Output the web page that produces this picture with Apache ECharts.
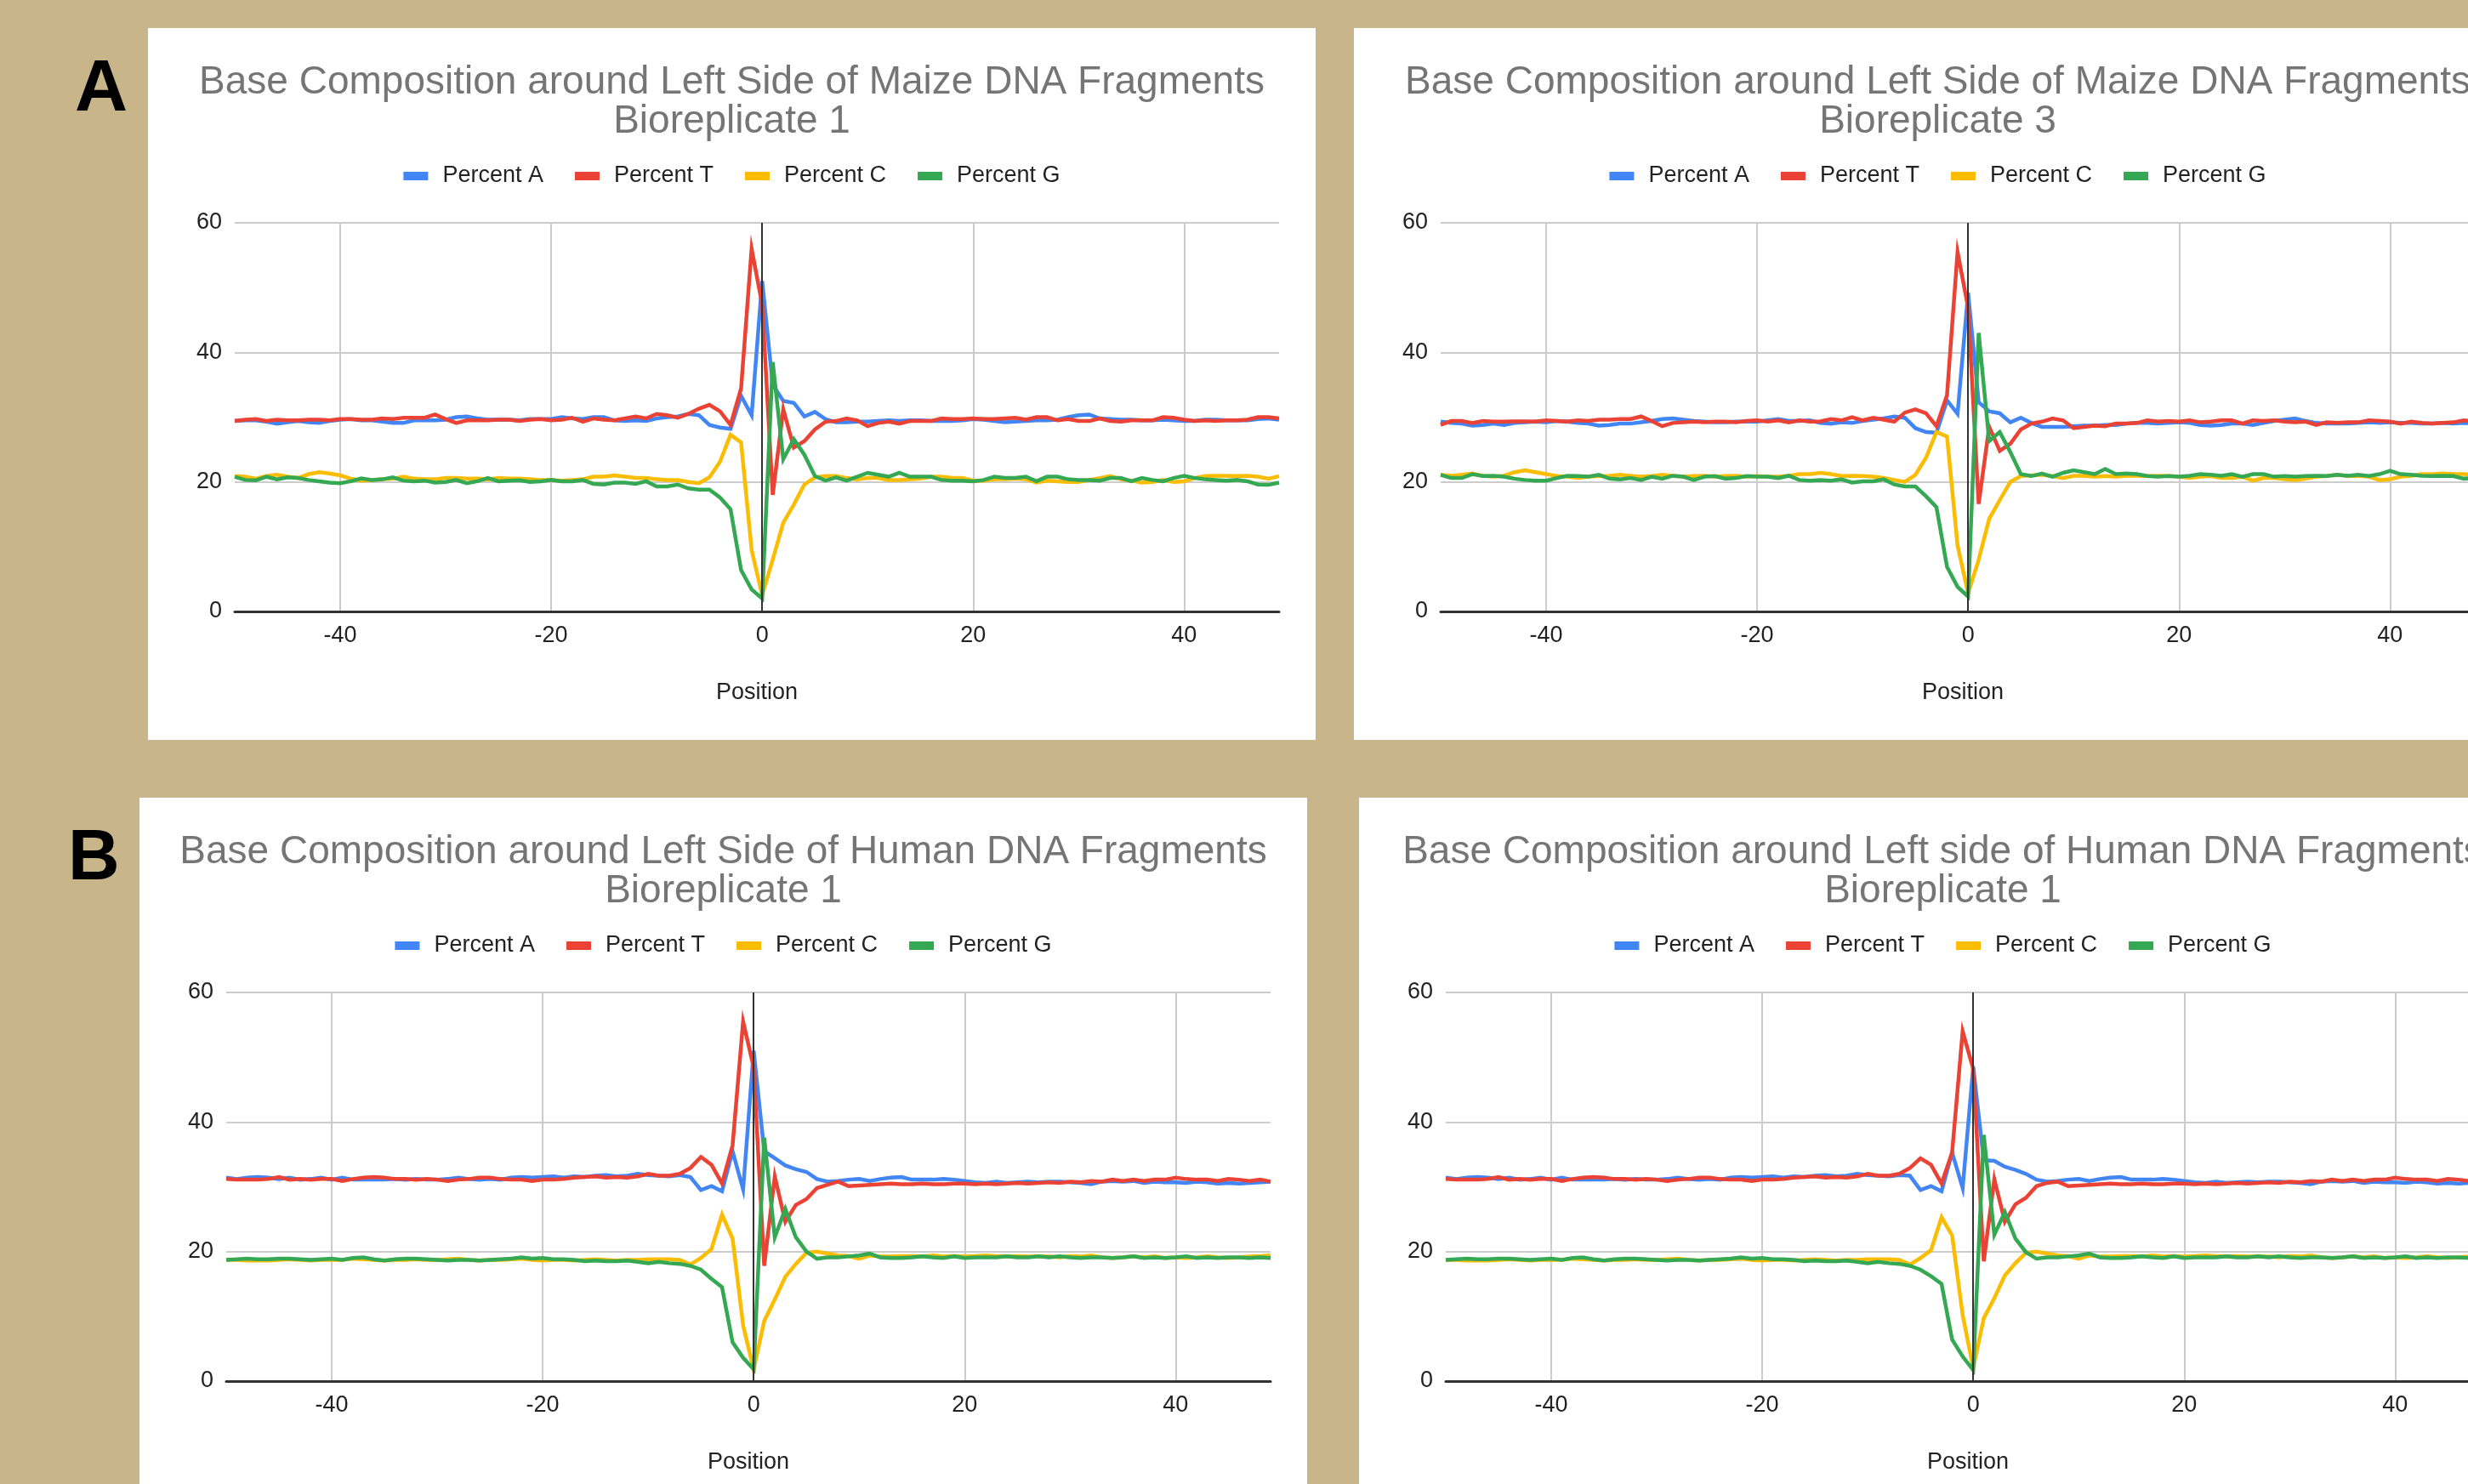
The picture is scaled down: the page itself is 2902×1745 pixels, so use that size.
<!DOCTYPE html>
<html><head><meta charset="utf-8">
<script src="https://cdn.jsdelivr.net/npm/echarts@6/dist/echarts.min.js"></script>
<style>
html,body{margin:0;padding:0;width:2902px;height:1745px;overflow:hidden;background:#C8B58A;position:relative;}
.panel{position:absolute;background:#fff;width:1373px;height:837px;}
.lab{position:absolute;font-family:'Liberation Sans',Arial,sans-serif;font-weight:bold;color:#000;line-height:1;}
</style></head><body>
<div class="lab" style="left:88px;top:57px;font-size:86px;">A</div>
<div class="lab" style="left:80px;top:963px;font-size:84px;">B</div>
<div class="panel" id="pA1" style="left:174px;top:33px;"></div>
<div class="panel" id="pA3" style="left:1592px;top:33px;"></div>
<div class="panel" id="pB1" style="left:164px;top:938px;"></div>
<div class="panel" id="pB2" style="left:1598px;top:938px;"></div>
<script>
const positions = [-50,-49,-48,-47,-46,-45,-44,-43,-42,-41,-40,-39,-38,-37,-36,-35,-34,-33,-32,-31,-30,-29,-28,-27,-26,-25,-24,-23,-22,-21,-20,-19,-18,-17,-16,-15,-14,-13,-12,-11,-10,-9,-8,-7,-6,-5,-4,-3,-2,-1,0,1,2,3,4,5,6,7,8,9,10,11,12,13,14,15,16,17,18,19,20,21,22,23,24,25,26,27,28,29,30,31,32,33,34,35,36,37,38,39,40,41,42,43,44,45,46,47,48,49];
const xTickLabels = [-40,-20,0,20,40];
const yTicks = [0,20,40,60];
const legendNames = ['Percent A','Percent T','Percent C','Percent G'];
const seriesColors = ['#4285F4','#EA4335','#FBBC04','#34A853'];
const titles = [
 'Base Composition around Left Side of Maize DNA Fragments\nBioreplicate 1',
 'Base Composition around Left Side of Maize DNA Fragments\nBioreplicate 3',
 'Base Composition around Left Side of Human DNA Fragments\nBioreplicate 1',
 'Base Composition around Left side of Human DNA Fragments\nBioreplicate 1'
];

// Maize bioreplicate 1
const maize1_A = [29.4,29.5,29.5,29.3,29.0,29.2,29.4,29.2,29.1,29.4,29.6,29.7,29.5,29.5,29.3,29.1,29.1,29.5,29.5,29.5,29.6,30.0,30.1,29.8,29.6,29.6,29.6,29.5,29.7,29.7,29.7,30.0,29.8,29.7,30.0,30.0,29.5,29.4,29.5,29.4,29.8,30.0,30.1,30.5,
 30.3,28.8,28.4,28.2,33.3,30.3,51,35,32.5,32.2,30.1,30.8,29.7,29.2,
 29.2,29.3,29.3,29.4,29.5,29.4,29.5,29.5,29.4,29.4,29.4,29.5,29.7,29.6,29.4,29.2,29.3,29.4,29.5,29.5,29.6,30.0,30.3,30.4,29.8,29.7,29.6,29.6,29.5,29.5,29.6,29.5,29.4,29.4,29.6,29.6,29.5,29.5,29.5,29.7,29.8,29.6];
const maize1_T = [29.4,29.6,29.7,29.4,29.6,29.5,29.5,29.6,29.6,29.5,29.7,29.7,29.6,29.6,29.8,29.7,29.9,29.9,29.9,30.4,29.7,29.1,29.5,29.5,29.5,29.6,29.6,29.4,29.6,29.7,29.5,29.6,29.9,29.3,29.8,29.6,29.5,29.8,30.1,29.8,30.5,30.3,29.9,30.5,
 31.3,31.9,30.9,28.8,34.4,56,47.4,18,31.2,25.3,26.3,28.1,29.3,29.4,
 29.8,29.5,28.6,29.1,29.3,29.0,29.4,29.4,29.4,29.8,29.7,29.7,29.8,29.7,29.7,29.8,29.9,29.6,30.0,30.0,29.5,29.7,29.4,29.4,29.8,29.4,29.3,29.5,29.5,29.5,30.0,29.9,29.6,29.4,29.5,29.4,29.5,29.5,29.6,30.0,30.0,29.8];
const maize1_C = [20.9,20.8,20.5,20.9,21.1,20.8,20.6,21.2,21.5,21.3,21.0,20.5,20.2,20.3,20.4,20.5,20.8,20.5,20.4,20.4,20.6,20.6,20.5,20.5,20.4,20.6,20.5,20.5,20.4,20.3,20.3,20.2,20.3,20.4,20.8,20.8,21.0,20.8,20.6,20.6,20.4,20.3,20.3,20.0,
 19.8,20.7,23.1,27.3,26.1,9.5,2.5,8.0,13.7,16.5,19.6,20.7,20.9,20.9,
 20.6,20.4,20.6,20.6,20.3,20.3,20.4,20.5,20.8,20.8,20.6,20.6,20.2,20.2,20.4,20.4,20.5,20.4,19.9,20.2,20.1,20.0,20.0,20.3,20.6,20.9,20.4,20.2,19.9,20.0,20.3,20.0,20.1,20.6,20.9,20.95,20.95,20.9,20.95,20.8,20.5,20.9];
const maize1_G = [20.8,20.3,20.25,20.8,20.4,20.7,20.6,20.3,20.1,19.9,19.8,20.1,20.55,20.3,20.4,20.7,20.2,20.1,20.2,19.9,20.0,20.3,19.8,20.1,20.6,20.1,20.2,20.25,20.0,20.1,20.3,20.1,20.1,20.3,19.7,19.6,19.9,19.9,19.7,20.1,19.3,19.3,19.6,19.0,
 18.8,18.8,17.6,15.8,6.4,3.4,2.0,38.5,23.5,26.6,24.2,20.9,20.2,20.7,
 20.2,20.8,21.4,21.1,20.8,21.4,20.8,20.8,20.8,20.3,20.2,20.2,20.1,20.3,20.8,20.6,20.6,20.8,20.1,20.8,20.8,20.4,20.3,20.3,20.2,20.6,20.6,20.1,20.6,20.3,20.1,20.6,20.95,20.6,20.4,20.3,20.2,20.3,20.1,19.6,19.55,19.9];

// Maize bioreplicate 3
const maize3_A = [29.3,29.1,29.0,28.7,28.8,29.0,28.8,29.1,29.2,29.3,29.2,29.4,29.3,29.1,29.0,28.7,28.8,29.0,29.0,29.2,29.4,29.7,29.8,29.6,29.4,29.3,29.2,29.2,29.3,29.3,29.3,29.5,29.7,29.4,29.4,29.5,29.1,29.0,29.2,29.1,29.4,29.6,29.8,30.1,
 29.9,28.3,27.7,27.6,32.6,30.5,49.2,32.3,30.9,30.6,29.2,29.9,29.1,28.5,
 28.5,28.5,28.6,28.7,28.7,28.8,28.8,29.0,29.1,29.1,29.0,29.1,29.2,29.1,28.8,28.7,28.8,29.0,29.0,28.8,29.1,29.4,29.6,29.8,29.4,29.1,29.0,29.0,29.0,29.1,29.2,29.1,29.2,29.1,29.1,29.0,29.0,29.1,29.0,29.1,29.0,29.1];
const maize3_T = [28.8,29.4,29.4,29.1,29.4,29.3,29.3,29.35,29.35,29.3,29.5,29.4,29.3,29.5,29.4,29.6,29.6,29.7,29.7,30.1,29.4,28.6,29.1,29.2,29.3,29.2,29.3,29.3,29.2,29.4,29.5,29.3,29.5,29.2,29.5,29.3,29.35,29.7,29.5,30.0,29.5,29.9,29.6,29.3,
 30.7,31.2,30.6,28.6,33.4,55.5,46.9,16.6,28.5,24.8,25.9,28.1,29.0,29.3,
 29.8,29.5,28.3,28.5,28.7,28.6,29.0,29.0,29.1,29.5,29.3,29.4,29.3,29.5,29.2,29.3,29.5,29.5,29.0,29.5,29.4,29.5,29.3,29.2,29.3,28.8,29.2,29.1,29.2,29.2,29.5,29.4,29.3,29.0,29.3,29.1,29.0,29.1,29.2,29.5,29.3,29.2];
const maize3_C = [21.1,20.95,21.1,21.3,20.95,20.8,20.95,21.5,21.8,21.5,21.2,20.9,20.8,20.6,20.8,20.9,20.95,21.1,20.95,20.8,20.9,21.1,20.95,20.8,20.9,20.95,20.8,20.9,20.95,20.8,20.9,20.8,20.8,20.95,21.2,21.2,21.4,21.2,20.9,20.95,20.9,20.8,20.6,20.3,
 20.0,21.1,23.7,27.7,27.0,10.2,2.8,8.0,14.3,17.2,20.0,20.9,21.0,21.1,
 20.9,20.6,20.95,20.95,20.8,20.9,20.8,20.95,20.95,20.9,20.95,20.9,20.8,20.6,20.8,20.9,20.6,20.6,20.8,20.2,20.6,20.6,20.4,20.3,20.5,20.8,20.9,21.1,20.9,20.95,20.8,20.3,20.4,20.8,20.95,21.2,21.2,21.3,21.2,21.2,21.1,21.2];
const maize3_G = [21.1,20.6,20.6,21.2,20.9,20.95,20.8,20.5,20.3,20.2,20.2,20.6,20.95,20.9,20.8,21.1,20.5,20.4,20.6,20.3,20.8,20.5,20.95,20.8,20.3,20.8,20.9,20.5,20.6,20.9,20.8,20.8,20.6,20.95,20.3,20.2,20.3,20.2,20.4,19.9,20.1,20.1,20.4,19.6,
 19.3,19.3,17.8,16.1,6.9,3.8,2.3,43,26.3,27.7,24.6,21.2,20.9,21.3,
 20.8,21.4,21.8,21.5,21.2,22.0,21.2,21.3,21.2,20.9,20.8,20.9,20.8,20.95,21.2,21.1,20.95,21.2,20.8,21.2,21.2,20.8,20.9,20.8,20.9,20.95,20.9,21.1,20.95,21.1,20.9,21.2,21.7,21.2,21.1,20.95,20.9,20.95,20.9,20.5,20.6,20.4];

// Human bioreplicate 1 (left panel)
const human1_A = [31.4,31.2,31.4,31.5,31.4,31.2,31.4,31.1,31.2,31.4,31.1,31.4,31.1,31.1,31.1,31.1,31.2,31.1,31.2,31.1,31.1,31.2,31.4,31.2,31.1,31.2,31.1,31.4,31.5,31.4,31.5,31.6,31.4,31.6,31.5,31.7,31.8,31.6,31.7,32.0,31.8,31.7,31.6,31.8,
 31.5,29.5,30.1,29.3,35.5,29.6,51,35.5,34.4,33.3,32.7,32.3,31.2,30.8,
 30.9,31.1,31.2,30.9,31.2,31.4,31.5,31.1,31.1,31.1,31.2,31.1,30.9,30.7,30.6,30.8,30.6,30.7,30.8,30.7,30.8,30.8,30.7,30.6,30.4,30.8,30.9,30.8,30.9,30.6,30.8,30.7,30.7,30.6,30.8,30.7,30.5,30.6,30.5,30.6,30.7,30.8];
const human1_T = [31.2,31.1,31.1,31.1,31.2,31.5,31.1,31.2,31.1,31.2,31.2,30.9,31.2,31.4,31.5,31.4,31.2,31.2,31.1,31.2,31.1,30.9,31.1,31.2,31.4,31.4,31.2,31.1,31.1,30.9,31.1,31.1,31.2,31.4,31.5,31.6,31.4,31.5,31.4,31.6,32.0,31.7,31.7,32.0,
 32.9,34.6,33.4,30.5,36.4,55.5,48.4,17.8,31.6,24.6,27.2,28.1,29.8,30.3,
 30.8,30.1,30.2,30.3,30.4,30.5,30.4,30.4,30.5,30.4,30.4,30.5,30.5,30.4,30.5,30.4,30.5,30.6,30.5,30.6,30.7,30.6,30.8,30.7,30.9,30.8,31.1,30.9,31.1,30.9,31.1,31.1,31.4,31.2,31.1,31.1,30.9,31.2,31.1,30.9,31.1,30.8];
const human1_C = [18.7,18.7,18.6,18.6,18.6,18.7,18.8,18.7,18.6,18.7,18.7,18.7,18.9,18.8,18.7,18.6,18.7,18.7,18.8,18.7,18.7,18.8,18.9,18.7,18.6,18.7,18.7,18.8,18.9,18.7,18.6,18.7,18.7,18.6,18.7,18.8,18.7,18.6,18.7,18.7,18.8,18.8,18.8,18.7,
 18.0,19.0,20.4,25.7,22.0,8.6,1.8,9.3,12.6,16.1,18.1,19.8,20.0,19.7,
 19.4,19.3,18.9,19.4,19.25,19.25,19.3,19.3,19.25,19.4,19.25,19.3,19.25,19.3,19.4,19.3,19.25,19.3,19.25,19.25,19.25,19.1,19.3,19.25,19.4,19.1,19.0,19.1,19.25,19.1,19.25,19.0,19.1,19.0,19.1,19.25,19.1,19.0,19.1,19.25,19.3,19.4];
const human1_G = [18.7,18.8,18.9,18.8,18.8,18.9,18.9,18.8,18.7,18.8,18.9,18.7,19.0,19.1,18.8,18.6,18.8,18.9,18.9,18.8,18.7,18.6,18.7,18.7,18.6,18.7,18.8,18.9,19.1,18.9,19.0,18.8,18.8,18.7,18.5,18.6,18.5,18.5,18.6,18.4,18.2,18.4,18.2,18.1,
 17.8,17.2,15.8,14.5,6.0,3.6,1.8,37.6,22.2,26.6,22.2,20.0,18.9,19.1,
 19.1,19.25,19.4,19.7,19.1,19.0,19.0,19.1,19.25,19.1,19.0,19.25,19.0,19.1,19.1,19.1,19.25,19.1,19.1,19.25,19.1,19.25,19.1,19.0,19.1,19.1,19.0,19.1,19.25,19.0,19.1,19.0,19.1,19.25,19.0,19.1,19.0,19.1,19.1,19.0,19.1,19.0];

// Human bioreplicate 1 (right panel)
const human1b_A = [31.4,31.2,31.4,31.5,31.4,31.2,31.4,31.1,31.2,31.4,31.1,31.4,31.1,31.1,31.1,31.1,31.2,31.1,31.2,31.1,31.1,31.2,31.4,31.2,31.1,31.2,31.1,31.4,31.5,31.4,31.5,31.6,31.4,31.6,31.5,31.7,31.8,31.6,31.7,32.0,31.8,31.7,31.6,31.8,
 31.7,29.5,30.1,29.3,35.3,29.8,48.5,34.1,34.0,33.1,32.6,32.0,31.1,30.8,
 30.9,31.1,31.2,30.9,31.2,31.4,31.5,31.1,31.1,31.1,31.2,31.1,30.9,30.7,30.6,30.8,30.6,30.7,30.8,30.7,30.8,30.8,30.7,30.6,30.4,30.8,30.9,30.8,30.9,30.6,30.8,30.7,30.7,30.6,30.8,30.7,30.5,30.6,30.5,30.6,30.7,30.8];
const human1b_T = [31.2,31.1,31.1,31.1,31.2,31.5,31.1,31.2,31.1,31.2,31.2,30.9,31.2,31.4,31.5,31.4,31.2,31.2,31.1,31.2,31.1,30.9,31.1,31.2,31.4,31.4,31.2,31.1,31.1,30.9,31.1,31.1,31.2,31.4,31.5,31.6,31.4,31.5,31.4,31.6,32.0,31.7,31.7,32.0,
 32.9,34.4,33.4,30.5,35.3,54,48.2,18.5,31.2,24.6,27.3,28.3,30.1,30.6,
 30.8,30.1,30.2,30.3,30.4,30.5,30.4,30.4,30.5,30.4,30.4,30.5,30.5,30.4,30.5,30.4,30.5,30.6,30.5,30.6,30.7,30.6,30.8,30.7,30.9,30.8,31.1,30.9,31.1,30.9,31.1,31.1,31.4,31.2,31.1,31.1,30.9,31.2,31.1,30.9,31.1,30.8];
const human1b_C = [18.7,18.7,18.6,18.6,18.6,18.7,18.8,18.7,18.6,18.7,18.7,18.7,18.9,18.8,18.7,18.6,18.7,18.7,18.8,18.7,18.7,18.8,18.9,18.7,18.6,18.7,18.7,18.8,18.9,18.7,18.6,18.7,18.7,18.6,18.7,18.8,18.7,18.6,18.7,18.7,18.8,18.8,18.8,18.7,
 18.0,19.0,20.2,25.3,22.5,10.2,2.0,9.7,12.8,16.3,18.2,19.8,20.0,19.7,
 19.4,19.3,18.9,19.4,19.25,19.25,19.3,19.3,19.25,19.4,19.25,19.3,19.25,19.3,19.4,19.3,19.25,19.3,19.25,19.25,19.25,19.1,19.3,19.25,19.4,19.1,19.0,19.1,19.25,19.1,19.25,19.0,19.1,19.0,19.1,19.25,19.1,19.0,19.1,19.25,19.3,19.4];
const human1b_G = [18.7,18.8,18.9,18.8,18.8,18.9,18.9,18.8,18.7,18.8,18.9,18.7,19.0,19.1,18.8,18.6,18.8,18.9,18.9,18.8,18.7,18.6,18.7,18.7,18.6,18.7,18.8,18.9,19.1,18.9,19.0,18.8,18.8,18.7,18.5,18.6,18.5,18.5,18.6,18.4,18.2,18.4,18.2,18.1,
 17.8,17.2,16.2,15.0,6.4,3.8,1.7,38,22.6,26.1,22.0,19.9,18.9,19.1,
 19.1,19.25,19.4,19.7,19.1,19.0,19.0,19.1,19.25,19.1,19.0,19.25,19.0,19.1,19.1,19.1,19.25,19.1,19.1,19.25,19.1,19.25,19.1,19.0,19.1,19.1,19.0,19.1,19.25,19.0,19.1,19.0,19.1,19.25,19.0,19.1,19.0,19.1,19.1,19.0,19.1,19.0];

const FONT = "'Liberation Sans', Arial, sans-serif";
const zeroIndex = positions.indexOf(0);
function isTick(v){ return xTickLabels.indexOf(Number(v)) >= 0; }

function buildOption(title, seriesData){
  return {
    animation: false,
    backgroundColor: '#ffffff',
    textStyle: {fontFamily: FONT},
    title: {
      text: title, left: 'center', top: 41, padding: 0,
      textStyle: {fontFamily: FONT, fontSize: 46, lineHeight: 46, fontWeight: 'normal', color: '#757575'}
    },
    legend: {
      data: legendNames, top: 154, left: 'center', icon: 'rect',
      itemWidth: 29, itemHeight: 10, itemGap: 37,
      textStyle: {fontFamily: FONT, fontSize: 27, color: '#222222', lineHeight: 30, padding: [0,0,0,12]}
    },
    grid: {left: 102, top: 229, width: 1228, height: 457, containLabel: false, outerBoundsMode: 'none'},
    xAxis: {
      type: 'category', data: positions, boundaryGap: false,
      axisLine: {show: true, onZero: false, lineStyle: {color: '#333333', width: 3}},
      axisTick: {show: false},
      axisLabel: {interval: function(i, v){ return isTick(v); }, fontFamily: FONT, fontSize: 27, color: '#222222', margin: 15},
      splitLine: {show: true, interval: function(i, v){ return isTick(v); }, lineStyle: {color: '#cccccc', width: 2}},
      name: 'Position', nameLocation: 'middle', nameGap: 82,
      nameTextStyle: {fontFamily: FONT, fontSize: 27, color: '#222222'}
    },
    yAxis: {
      type: 'value', min: yTicks[0], max: yTicks[yTicks.length-1], interval: 20,
      axisLine: {show: false}, axisTick: {show: false},
      axisLabel: {fontFamily: FONT, fontSize: 27, color: '#222222', margin: 15},
      splitLine: {show: true, lineStyle: {color: '#cccccc', width: 2}}
    },
    series: seriesData.map(function(d, k){
      const s = {
        name: legendNames[k], type: 'line', data: d, showSymbol: false, symbol: 'none',
        itemStyle: {color: seriesColors[k]},
        lineStyle: {color: seriesColors[k], width: 4.5, join: 'miter', miterLimit: 10},
        emphasis: {disabled: true}
      };
      if (k === 0) {
        s.markLine = {
          silent: true, symbol: ['none','none'], label: {show: false}, animation: false,
          lineStyle: {color: '#333333', width: 2, type: 'solid'},
          data: [{xAxis: zeroIndex}]
        };
      }
      return s;
    })
  };
}

const panels = [
  ['pA1', titles[0], [maize1_A, maize1_T, maize1_C, maize1_G]],
  ['pA3', titles[1], [maize3_A, maize3_T, maize3_C, maize3_G]],
  ['pB1', titles[2], [human1_A, human1_T, human1_C, human1_G]],
  ['pB2', titles[3], [human1b_A, human1b_T, human1b_C, human1b_G]]
];
panels.forEach(function(p){
  const chart = echarts.init(document.getElementById(p[0]), null, {renderer: 'canvas'});
  chart.setOption(buildOption(p[1], p[2]));
});
</script>
</body></html>
